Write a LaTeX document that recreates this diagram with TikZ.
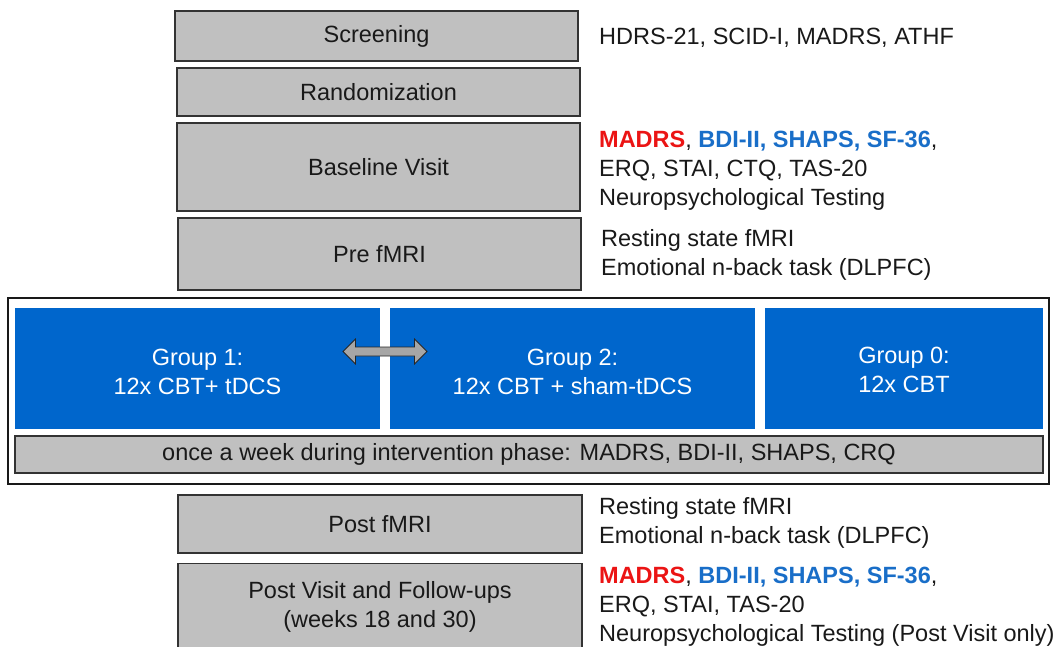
\documentclass[tikz,border=0pt]{standalone}
\usepackage{fontspec}
\setmainfont{Liberation Sans}
\usetikzlibrary{positioning,calc}
\definecolor{groupblue}{RGB}{0,102,204}
\definecolor{boxgray}{RGB}{192,192,192}
\definecolor{madrsred}{RGB}{235,20,20}
\definecolor{scaleblue}{RGB}{25,110,200}

\begin{document}
\begin{tikzpicture}[x=1pt,y=-1pt,
    font=\fontsize{23.5}{29}\selectfont,
    phase/.style={draw=black!80, line width=1.4pt, fill=boxgray, align=center,
        inner sep=0pt, minimum width=403pt, text=black!90},
    group/.style={fill=groupblue, inner sep=0pt, minimum height=121pt},
    grouptext/.style={text=white, align=center, inner sep=0pt},
    info/.style={anchor=base west, align=left, inner sep=0pt, text=black!90}]
    \useasboundingbox (0,0) rectangle (1061,647);

    % Study phases before the intervention
    \node[phase, minimum height=50pt] (screen) at (376.5,36) {Screening};
    \node[phase, minimum height=48pt] (random) at (378.5,92) {Randomization};
    \node[phase, minimum height=88pt] (baseline) at (378.5,167) {Baseline Visit};
    \node[phase, minimum height=72pt] (prefmri) at (379.5,254) {Pre fMRI};

    % Measures (anchored at the baseline of the last line)
    \node[info] (screeninfo) at (599,45) {HDRS-21, SCID-I, MADRS, ATHF};
    \node[info] (baseinfo) at (599,205.5) {\textcolor{madrsred}{\textbf{MADRS}},
        \textcolor{scaleblue}{\textbf{BDI-II, SHAPS, SF-36}},\\
        ERQ, STAI, CTQ, TAS-20\\Neuropsychological Testing};
    \node[info] (preinfo) at (601,275.5) {Resting state fMRI\\Emotional n-back task (DLPFC)};

    % Intervention phase
    \node[draw=black!90, line width=1.2pt, minimum width=1041pt, minimum height=186pt,
        inner sep=0pt] (frame) at (528.5,391) {};
    \node[group, minimum width=365pt,
        label={[grouptext, yshift=-3pt]center:{Group 1:\\12x CBT+ tDCS}}] (group1) at (197.5,368.5) {};
    \node[group, minimum width=365pt,
        label={[grouptext, yshift=-3pt]center:{Group 2:\\12x CBT + sham-tDCS}}] (group2) at (572.5,368.5) {};
    \node[group, minimum width=278pt,
        label={[grouptext, yshift=-1pt]center:{Group 0:\\12x CBT}}] (group0) at (904,368.5) {};
    \node[phase, minimum width=1028pt, minimum height=37pt] (weekly) at (529,454.5)
        {once a week during intervention phase: MADRS, BDI-II, SHAPS, CRQ};

    % Double arrow between group 1 and group 2
    \coordinate (swap) at ($(group1.east)!0.5!(group2.west)+(0,-17)$);
    \draw[fill=black!35, draw=black!85, line width=0.8pt]
        ($(swap)+(-42,0)$) -- ++(12.5,-12.5) -- ++(0,8) -- ++(59,0) -- ++(0,-8)
        -- ++(12.5,12.5) -- ++(-12.5,12.5) -- ++(0,-8) -- ++(-59,0) -- ++(0,8) -- cycle;

    % Study phases after the intervention
    \node[phase, minimum width=404pt, minimum height=58pt] (postfmri) at (380,524) {Post fMRI};
    \node[phase, minimum width=404pt, minimum height=87pt] (postvisit) at (380,607)
        {Post Visit and Follow-ups\\(weeks 18 and 30)};

    \node[info] (postfmriinfo) at (599,543.5) {Resting state fMRI\\Emotional n-back task (DLPFC)};
    \node[info] (postinfo) at (599,641) {\textcolor{madrsred}{\textbf{MADRS}},
        \textcolor{scaleblue}{\textbf{BDI-II, SHAPS, SF-36}},\\
        ERQ, STAI, TAS-20\\Neuropsychological Testing (Post Visit only)};
\end{tikzpicture}
\end{document}
